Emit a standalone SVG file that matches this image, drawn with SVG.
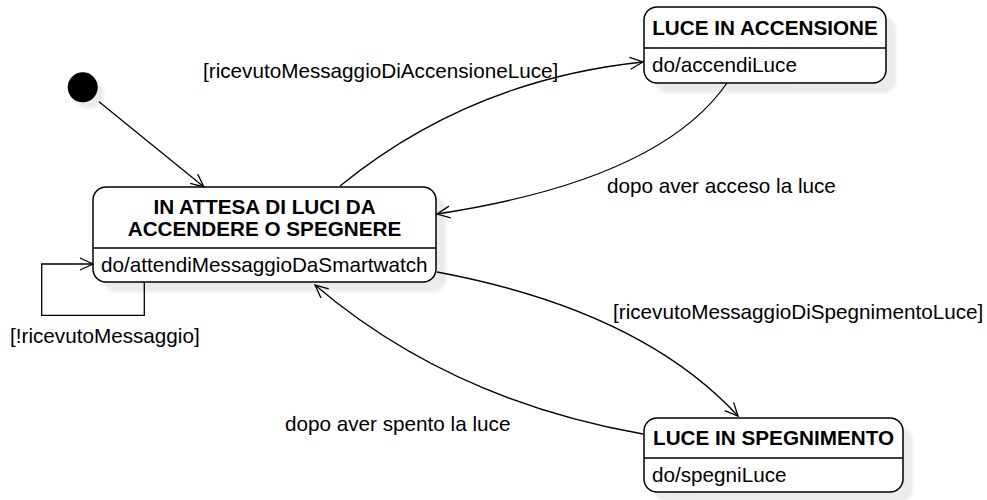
<svg xmlns="http://www.w3.org/2000/svg" width="987" height="500" viewBox="0 0 987 500">
  <style>
    .state { fill: #ffffff; stroke: #000000; stroke-width: 1.5; }
    .shadow { fill: #ebebeb; filter: url(#soft); }
    .div { stroke: #000000; stroke-width: 1.5; }
    .title { font-family: "Liberation Sans", Arial, sans-serif; font-size: 20.7px; font-weight: bold; fill: #000; text-anchor: middle; }
    .act { font-family: "Liberation Sans", Arial, sans-serif; font-size: 20.7px; fill: #000; }
    .lbl { font-family: "Liberation Sans", Arial, sans-serif; font-size: 20.7px; fill: #000; }
    .edge { fill: none; stroke: #000000; stroke-width: 1.3; marker-end: url(#open); }
  </style>
  <defs>
    <filter id="soft" x="-10%" y="-10%" width="120%" height="120%">
      <feGaussianBlur stdDeviation="1.5"/>
    </filter>
    <marker id="open" markerUnits="userSpaceOnUse" markerWidth="16" markerHeight="16" refX="14" refY="7" orient="auto">
      <path d="M1,1 L14,7 L1,13" fill="none" stroke="#000" stroke-width="1.3"/>
    </marker>
  </defs>

  <rect width="987" height="500" fill="#ffffff"/>

  <!-- initial pseudo-state -->
  <g id="initial">
    <circle cx="89" cy="94" r="15" class="shadow"/>
    <circle cx="82.7" cy="87.3" r="15" fill="#000"/>
  </g>

  <!-- waiting state -->
  <g id="attesa">
    <rect x="103" y="197" width="343" height="95" rx="13" class="shadow"/>
    <rect x="93" y="187" width="343" height="95" rx="13" class="state"/>
    <line x1="93" y1="248" x2="436" y2="248" class="div"/>
    <text x="264.5" y="214" class="title">IN ATTESA DI LUCI DA</text>
    <text x="264.5" y="236" class="title">ACCENDERE O SPEGNERE</text>
    <text x="101" y="272" class="act">do/attendiMessaggioDaSmartwatch</text>
  </g>

  <!-- switching on -->
  <g id="accensione">
    <rect x="654" y="17" width="242" height="76" rx="13" class="shadow"/>
    <rect x="644" y="7" width="242" height="76" rx="13" class="state"/>
    <line x1="644" y1="48" x2="886" y2="48" class="div"/>
    <text x="765" y="35" class="title">LUCE IN ACCENSIONE</text>
    <text x="652" y="72" class="act">do/accendiLuce</text>
  </g>

  <!-- switching off -->
  <g id="spegnimento">
    <rect x="654" y="428" width="259" height="74" rx="13" class="shadow"/>
    <rect x="644" y="418" width="259" height="74" rx="13" class="state"/>
    <line x1="644" y1="458" x2="903" y2="458" class="div"/>
    <text x="773.5" y="445" class="title">LUCE IN SPEGNIMENTO</text>
    <text x="652" y="482" class="act">do/spegniLuce</text>
  </g>

  <!-- transitions -->
  <g id="connectors">
    <path class="edge" d="M99,101.7 L204,187"/>
    <path class="edge" d="M144.3,282 V315.3 H41.7 V264 H93"/>
    <path class="edge" d="M340,186 Q470,80 643,62"/>
    <path class="edge" d="M727,83 Q660,180 437,214"/>
    <path class="edge" d="M437,272 Q640,310 738,416"/>
    <path class="edge" d="M643,434 Q450,400 315,285"/>
  </g>

  <!-- transition labels -->
  <g id="labels">
    <text x="203" y="78" class="lbl">[ricevutoMessaggioDiAccensioneLuce]</text>
    <text x="10" y="343" class="lbl">[!ricevutoMessaggio]</text>
    <text x="607" y="193" class="lbl">dopo aver acceso la luce</text>
    <text x="613" y="319" class="lbl">[ricevutoMessaggioDiSpegnimentoLuce]</text>
    <text x="285" y="431" class="lbl">dopo aver spento la luce</text>
  </g>
</svg>
